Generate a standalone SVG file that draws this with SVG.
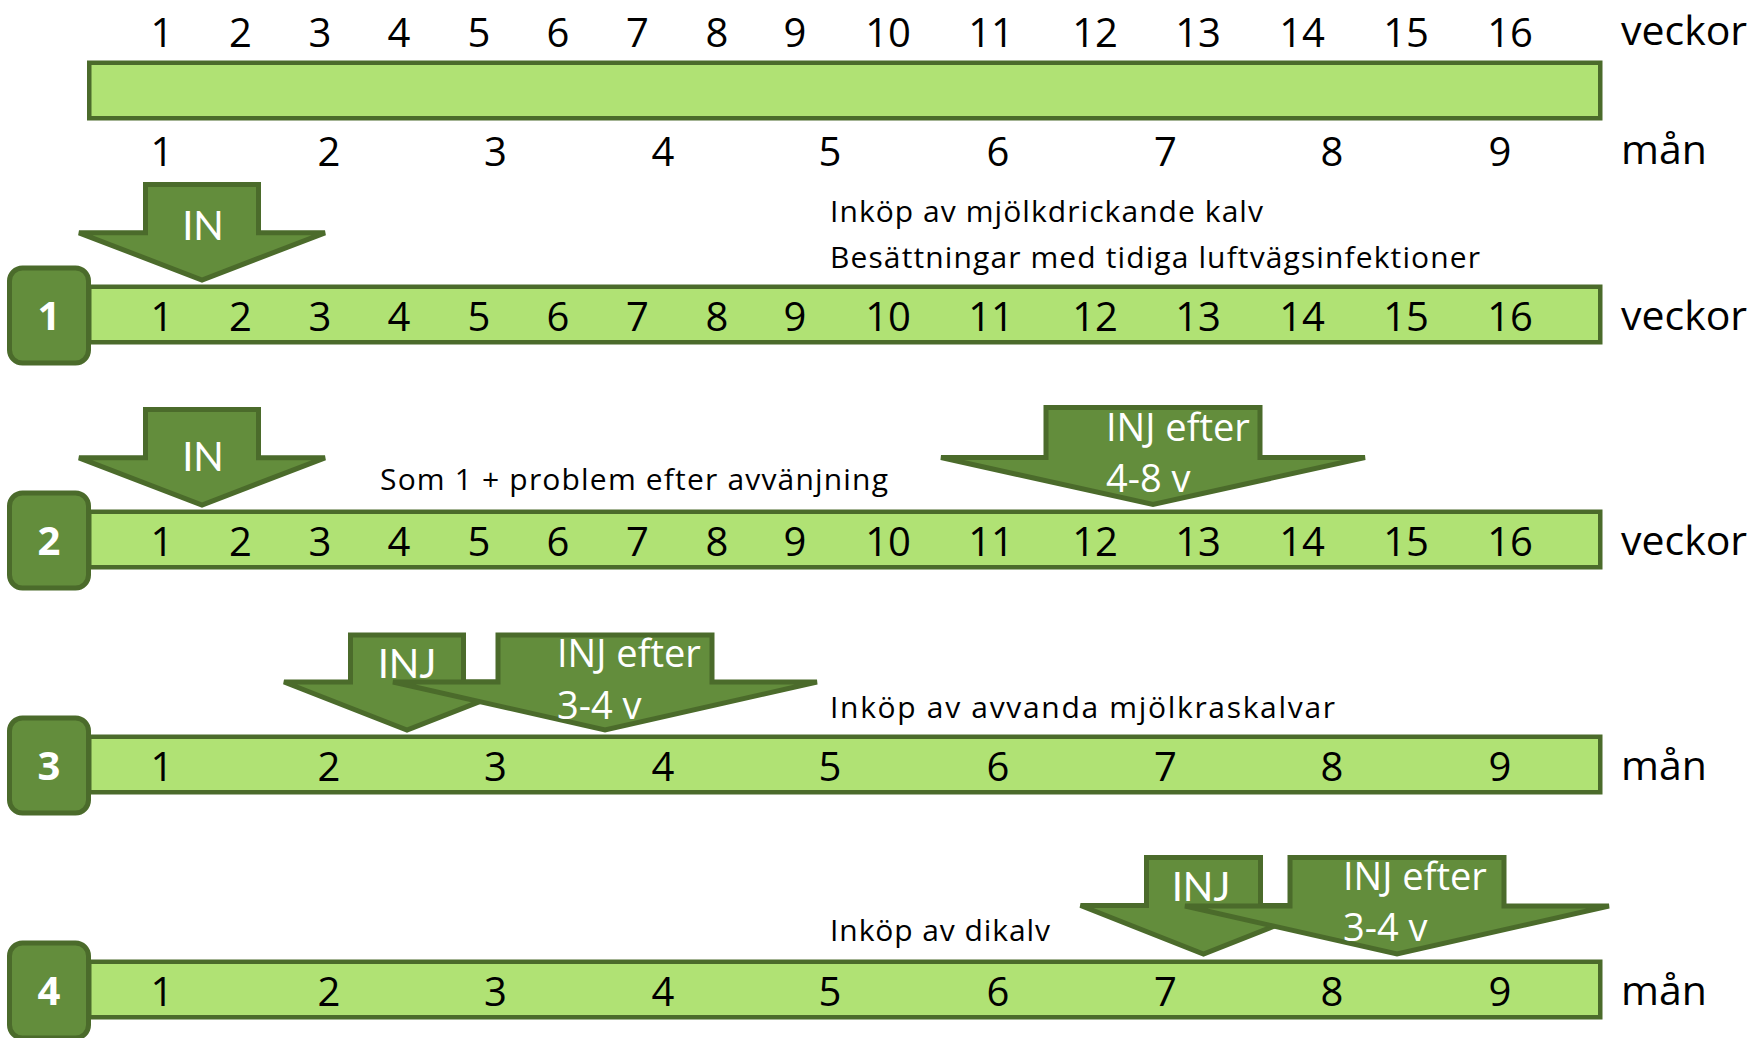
<svg xmlns="http://www.w3.org/2000/svg" width="1754" height="1038" viewBox="0 0 1754 1038">
<style>
.bar{fill:#b0e274;stroke:#4b6b2b;stroke-width:4.5}
.box{fill:#638d3c;stroke:#4b6b2b;stroke-width:5}
.arr{fill:#638d3c;stroke:#4b6b2b;stroke-width:5;stroke-linejoin:miter}
.num{font-family:"Open Sans","Noto Sans",sans-serif;font-size:40px;fill:#000;text-anchor:middle}
.lab{font-family:"Open Sans","Noto Sans",sans-serif;font-size:41px;fill:#000}
.boxt{font-family:"Open Sans","Noto Sans",sans-serif;font-size:40px;font-weight:bold;fill:#fff;text-anchor:middle}
.wt{font-family:"Open Sans","Noto Sans",sans-serif;font-size:38px;fill:#fff}
.wtm{font-family:Lato,"Open Sans",sans-serif;font-size:40px;fill:#fff;text-anchor:middle}
.note{font-family:"Open Sans","Noto Sans",sans-serif;font-size:30px;fill:#000}
</style>
<rect width="1754" height="1038" fill="#fff"/>

<g id="scale">
  <text class="num" y="46.5"><tspan x="162">1</tspan><tspan x="240.5">2</tspan><tspan x="320">3</tspan><tspan x="399">4</tspan><tspan x="479">5</tspan><tspan x="558">6</tspan><tspan x="637.5">7</tspan><tspan x="717">8</tspan><tspan x="795">9</tspan><tspan x="888">10</tspan><tspan x="991">11</tspan><tspan x="1095">12</tspan><tspan x="1198">13</tspan><tspan x="1302">14</tspan><tspan x="1406">15</tspan><tspan x="1510">16</tspan></text>
  <text class="lab" x="1621" y="45">veckor</text>
  <rect class="bar" x="89.25" y="62.75" width="1511" height="55.5"/>
  <text class="num" y="165.5"><tspan x="162">1</tspan><tspan x="329">2</tspan><tspan x="495.5">3</tspan><tspan x="663">4</tspan><tspan x="830">5</tspan><tspan x="998">6</tspan><tspan x="1165.5">7</tspan><tspan x="1332">8</tspan><tspan x="1500">9</tspan></text>
  <text class="lab" x="1621" y="164">mån</text>
</g>

<g id="row1">
  <rect class="bar" x="89.25" y="286.75" width="1511" height="55.5"/>
  <text class="num" y="330.5"><tspan x="162">1</tspan><tspan x="240.5">2</tspan><tspan x="320">3</tspan><tspan x="399">4</tspan><tspan x="479">5</tspan><tspan x="558">6</tspan><tspan x="637.5">7</tspan><tspan x="717">8</tspan><tspan x="795">9</tspan><tspan x="888">10</tspan><tspan x="991">11</tspan><tspan x="1095">12</tspan><tspan x="1198">13</tspan><tspan x="1302">14</tspan><tspan x="1406">15</tspan><tspan x="1510">16</tspan></text>
  <text class="lab" x="1621" y="330">veckor</text>
  <rect class="box" x="9.5" y="268" width="79" height="95" rx="13"/>
  <text class="boxt" x="49" y="330">1</text>
</g>
<g id="arrow-in-1">
  <polygon class="arr" points="145.5,184.5 258.5,184.5 258.5,232.8 325,232.8 202,280 79,232.8 145.5,232.8"/>
  <text class="wtm" x="203" y="239.5">IN</text>
</g>
<g id="note-1">
  <text class="note" x="830" y="221.5" textLength="433" lengthAdjust="spacing">Inköp av mjölkdrickande kalv</text>
  <text class="note" x="830" y="267.5" textLength="650" lengthAdjust="spacing">Besättningar med tidiga luftvägsinfektioner</text>
</g>

<g id="row2">
  <rect class="bar" x="89.25" y="511.75" width="1511" height="55.5"/>
  <text class="num" y="555.5"><tspan x="162">1</tspan><tspan x="240.5">2</tspan><tspan x="320">3</tspan><tspan x="399">4</tspan><tspan x="479">5</tspan><tspan x="558">6</tspan><tspan x="637.5">7</tspan><tspan x="717">8</tspan><tspan x="795">9</tspan><tspan x="888">10</tspan><tspan x="991">11</tspan><tspan x="1095">12</tspan><tspan x="1198">13</tspan><tspan x="1302">14</tspan><tspan x="1406">15</tspan><tspan x="1510">16</tspan></text>
  <text class="lab" x="1621" y="555">veckor</text>
  <rect class="box" x="9.5" y="493" width="79" height="95" rx="13"/>
  <text class="boxt" x="49" y="555">2</text>
</g>
<g id="arrow-in-2">
  <polygon class="arr" points="145.5,409.5 258.5,409.5 258.5,457.8 325,457.8 202,505 79,457.8 145.5,457.8"/>
  <text class="wtm" x="203" y="470.5">IN</text>
</g>
<g id="arrow-inj-2">
  <polygon class="arr" points="1046,407.5 1260,407.5 1260,457.5 1365,457.5 1153,504.5 941,457.5 1046,457.5"/>
  <text class="wt" x="1106" y="441">INJ efter</text>
  <text class="wt" x="1106" y="492">4-8 v</text>
</g>
<g id="note-2">
  <text class="note" x="380" y="490" textLength="508" lengthAdjust="spacing">Som 1 + problem efter avvänjning</text>
</g>

<g id="row3">
  <rect class="bar" x="89.25" y="736.75" width="1511" height="55.5"/>
  <text class="num" y="780.5"><tspan x="162">1</tspan><tspan x="329">2</tspan><tspan x="495.5">3</tspan><tspan x="663">4</tspan><tspan x="830">5</tspan><tspan x="998">6</tspan><tspan x="1165.5">7</tspan><tspan x="1332">8</tspan><tspan x="1500">9</tspan></text>
  <text class="lab" x="1621" y="780">mån</text>
  <rect class="box" x="9.5" y="718" width="79" height="95" rx="13"/>
  <text class="boxt" x="49" y="780">3</text>
</g>
<g id="arrow-inj-3a">
  <polygon class="arr" points="350.5,635 463.5,635 463.5,682 530,682 407,730 284,682 350.5,682"/>
  <text class="wtm" x="407" y="678">INJ</text>
</g>
<g id="arrow-inj-3b">
  <polygon class="arr" points="498,635 712,635 712,682 817,682 605,730 393,682 498,682"/>
  <text class="wt" x="557" y="667">INJ efter</text>
  <text class="wt" x="557" y="719">3-4 v</text>
</g>
<g id="note-3">
  <text class="note" x="830" y="718" textLength="505" lengthAdjust="spacing">Inköp av avvanda mjölkraskalvar</text>
</g>

<g id="row4">
  <rect class="bar" x="89.25" y="961.75" width="1511" height="55.5"/>
  <text class="num" y="1005.5"><tspan x="162">1</tspan><tspan x="329">2</tspan><tspan x="495.5">3</tspan><tspan x="663">4</tspan><tspan x="830">5</tspan><tspan x="998">6</tspan><tspan x="1165.5">7</tspan><tspan x="1332">8</tspan><tspan x="1500">9</tspan></text>
  <text class="lab" x="1621" y="1005">mån</text>
  <rect class="box" x="9.5" y="943" width="79" height="95" rx="13"/>
  <text class="boxt" x="49" y="1005">4</text>
</g>
<g id="arrow-inj-4a">
  <polygon class="arr" points="1146.5,857.5 1260.5,857.5 1260.5,905.5 1326.5,905.5 1203.5,954 1080.5,905.5 1146.5,905.5"/>
  <text class="wtm" x="1201" y="901">INJ</text>
</g>
<g id="arrow-inj-4b">
  <polygon class="arr" points="1290,857.5 1504,857.5 1504,906 1609,906 1397,954 1185,906 1290,906"/>
  <text class="wt" x="1343" y="890">INJ efter</text>
  <text class="wt" x="1343" y="941">3-4 v</text>
</g>
<g id="note-4">
  <text class="note" x="830" y="941" textLength="220" lengthAdjust="spacing">Inköp av dikalv</text>
</g>
<g id="connectors"/>
</svg>
